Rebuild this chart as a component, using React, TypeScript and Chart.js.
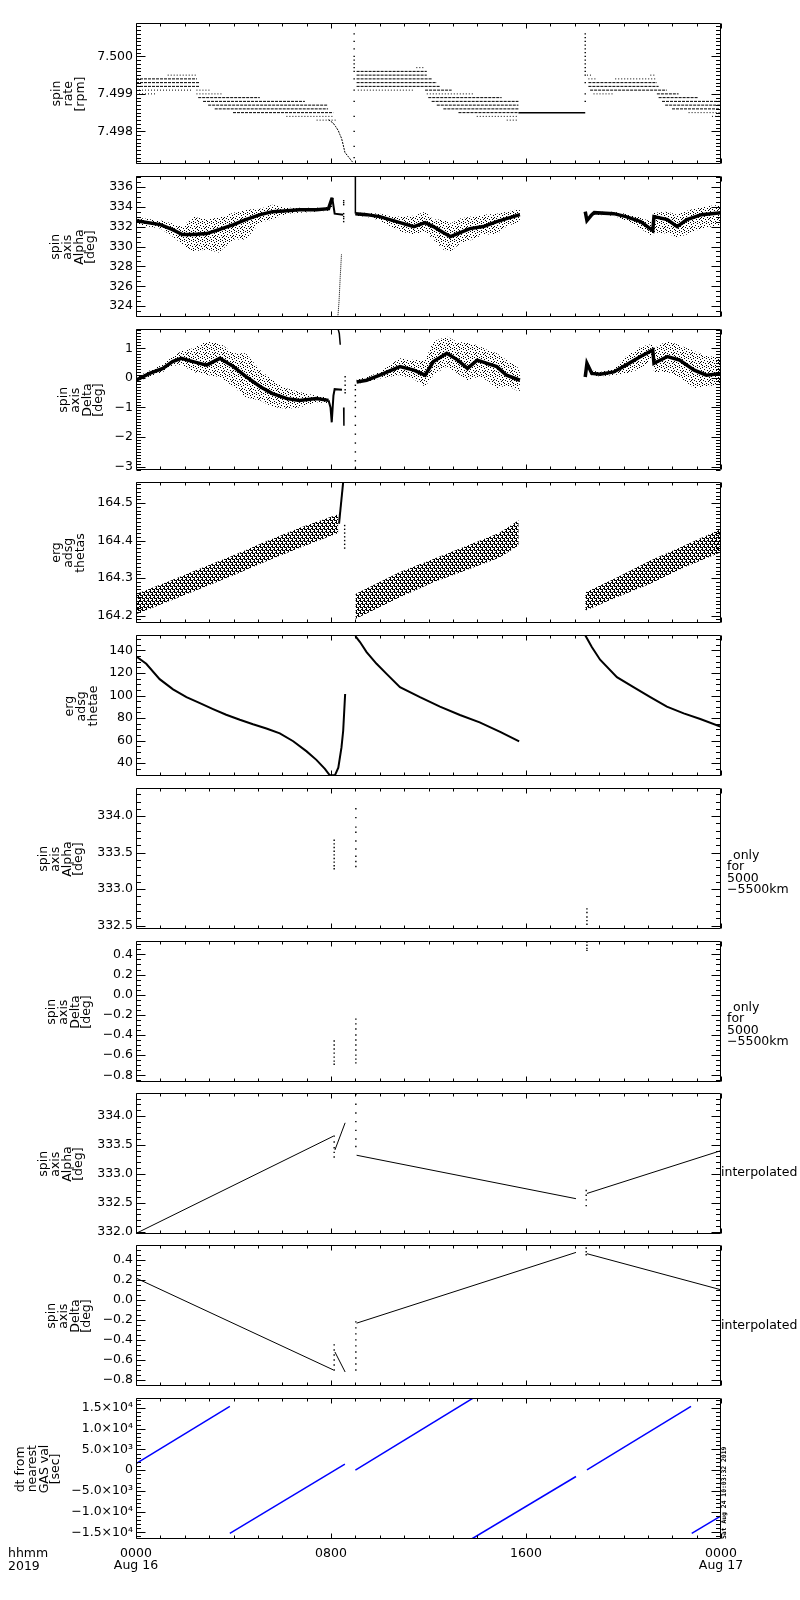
import React, { useEffect, useRef } from "react";
import { Chart, registerables } from "chart.js";

Chart.register(...registerables);

type Seg = [number, number, number];

// ---------------- time axis ----------------
const hourTicks = Array.from({ length: 25 }, (_, i) => i);
const hourMajor = [0, 8, 16, 24];
const hourLabels: (string | string[])[] = [["0000", "Aug 16"], "0800", "1600", ["0000", "Aug 17"]];

// ---------------- panel 1 : spin rate ----------------
const rateTicks = [7.498, 7.499, 7.5];
const rateTickLabels = ["7.498", "7.499", "7.500"];
const rateDenseSegs: Seg[] = [
  [0, 2.5, 7.4994], [0, 2.6, 7.4993], [0, 2.6, 7.4992],
  [2.55, 5.08, 7.4989], [2.75, 6.93, 7.4988], [2.96, 7.88, 7.4987], [3.23, 7.88, 7.4986], [3.98, 8.09, 7.4985],
  [9.05, 11.93, 7.4996], [9.05, 11.93, 7.4995], [9.05, 12.13, 7.4994], [9.05, 12.34, 7.4993], [9.05, 12.47, 7.4992],
  [11.86, 12.95, 7.4991], [11.99, 15.0, 7.4989], [12.13, 15.69, 7.4988], [12.34, 15.69, 7.4987], [12.61, 15.69, 7.4986],
  [13.23, 15.69, 7.4985],
  [18.56, 21.37, 7.4993], [18.56, 21.44, 7.4992], [18.63, 21.78, 7.4991], [21.37, 22.26, 7.499],
  [21.44, 23.08, 7.4989], [21.58, 24, 7.4988], [21.71, 24, 7.4987], [21.99, 24, 7.4986],
];
const rateSparseSegs: Seg[] = [
  [1.3, 2.45, 7.4995], [0, 2.3, 7.4991], [0, 0.8, 7.499], [2.48, 3.09, 7.4991], [2.48, 3.57, 7.499],
  [6.17, 8.09, 7.4984], [7.41, 8.23, 7.4983],
  [11.5, 11.85, 7.4997], [9.1, 11.4, 7.4991], [11.93, 13.84, 7.499], [13.98, 15.69, 7.4984], [15.21, 15.69, 7.4983],
  [18.5, 18.7, 7.4995], [18.56, 18.9, 7.4994], [19.66, 21.3, 7.4994], [21.1, 21.3, 7.4995], [18.77, 19.59, 7.499],
  [22.67, 24, 7.4985], [23.63, 24, 7.4984],
];
const rateSolidSegs: Seg[] = [[15.69, 18.43, 7.4985]];
const rateDescentT = [7.9, 8.09, 8.2, 8.3, 8.36, 8.43, 8.5, 8.57, 8.91];
const rateDescentV = [7.49831, 7.49822, 7.49812, 7.49802, 7.49792, 7.49782, 7.49764, 7.49744, 7.49716];
const rateSpike1T = 8.95;
const rateSpike1V = [7.4973, 7.4976, 7.498, 7.4984, 7.4988, 7.4991, 7.4994, 7.4996, 7.4997, 7.4998, 7.4999, 7.5, 7.5002, 7.5004, 7.5006];
const rateSpike2T = 18.43;
const rateSpike2V = [7.4988, 7.499, 7.4993, 7.4995, 7.4996, 7.4997, 7.4998, 7.4999, 7.5, 7.5001, 7.5002, 7.5003, 7.5004, 7.5005, 7.5006];

// ---------------- panel 2 : spin axis alpha ----------------
const alphaTicks = [324, 326, 328, 330, 332, 334, 336];
const alphaTickLabels = ["324", "326", "328", "330", "332", "334", "336"];
const alphaT1 = [0, 1, 1.5, 1.9, 2.35, 2.9, 3.4, 4.0, 4.5, 5.1, 5.6, 6.2, 6.7, 7.4, 7.9, 8.05];
const alphaCore1 = [332.6, 332.2, 331.7, 331.2, 331.2, 331.3, 331.7, 332.2, 332.7, 333.2, 333.5, 333.6, 333.7, 333.7, 333.8, 334.9];
const alphaHi1 = [332.9, 332.6, 332.3, 332.0, 333.0, 332.7, 332.9, 333.4, 333.7, 333.8, 334.2, 333.9, 333.9, 333.9, 334.0, 335.0];
const alphaLo1 = [332.2, 331.8, 331.0, 330.2, 329.5, 329.7, 329.4, 330.7, 330.7, 332.4, 332.7, 333.3, 333.4, 333.5, 333.6, 334.0];
const alphaFragT = [8.05, 8.15, 8.5];
const alphaFragV = [334.9, 333.3, 333.2];
const alphaDipT = [8.28, 8.33, 8.38, 8.43];
const alphaDipV = [322.9, 324.5, 327.0, 329.2];
const alphaDotsT = 8.52;
const alphaDotsV = [334.6, 334.4, 334.2, 333.3, 333.0, 332.8, 332.5];
const alphaSpikeT = [9.0, 9.0];
const alphaSpikeV = [333.3, 337.1];
const alphaT2 = [9.0, 9.46, 10.0, 10.83, 11.4, 11.86, 12.2, 12.6, 12.9, 13.3, 13.7, 14.25, 14.8, 15.2, 15.75];
const alphaCore2 = [333.3, 333.2, 333.0, 332.4, 332.0, 332.4, 332.0, 331.4, 331.0, 331.4, 331.8, 332.0, 332.5, 332.8, 333.2];
const alphaHi2 = [333.4, 333.4, 333.3, 333.0, 333.1, 333.5, 332.7, 332.7, 332.3, 332.8, 333.0, 333.2, 333.3, 333.5, 333.8];
const alphaLo2 = [333.1, 333.0, 332.6, 331.5, 331.2, 331.5, 330.7, 329.7, 329.5, 330.3, 330.6, 331.2, 331.2, 332.0, 332.5];
const alphaT3 = [18.43, 18.5, 18.7, 18.8, 19.6, 20.1, 20.7, 21.2, 21.25, 21.8, 22.2, 22.6, 23.2, 24];
const alphaCore3 = [333.5, 332.6, 333.2, 333.4, 333.3, 333.0, 332.5, 331.6, 333.0, 332.7, 332.0, 332.7, 333.2, 333.4];
const alphaHi3 = [333.6, 332.9, 333.4, 333.5, 333.5, 333.3, 332.9, 332.4, 333.4, 333.5, 333.2, 333.6, 334.0, 334.2];
const alphaLo3 = [333.4, 332.5, 333.0, 333.2, 333.1, 332.6, 331.8, 331.0, 331.4, 331.3, 330.9, 331.2, 331.8, 332.2];

// ---------------- panel 3 : spin axis delta ----------------
const deltaTicks = [-3, -2, -1, 0, 1];
const deltaTickLabels = ["\u22123", "\u22122", "\u22121", "0", "1"];
const deltaT1 = [0, 0.56, 1.1, 1.5, 1.86, 2.34, 2.9, 3.44, 4.0, 4.5, 5.1, 5.6, 6.2, 6.7, 7.4, 7.9];
const deltaCore1 = [-0.08, 0.15, 0.32, 0.55, 0.66, 0.55, 0.43, 0.66, 0.38, 0.05, -0.3, -0.53, -0.7, -0.76, -0.7, -0.76];
const deltaHi1 = [0.02, 0.25, 0.45, 0.72, 0.9, 1.0, 1.23, 1.17, 0.83, 0.83, 0.26, -0.08, -0.36, -0.48, -0.6, -0.65];
const deltaLo1 = [-0.16, 0.05, 0.2, 0.4, 0.45, 0.2, 0.1, 0.03, -0.3, -0.65, -0.76, -0.98, -1.04, -1.0, -0.82, -0.86];
const deltaFragT = [7.9, 7.98, 8.03, 8.1, 8.15, 8.45];
const deltaFragV = [-0.76, -1.0, -1.5, -0.6, -0.38, -0.4];
const deltaTopT = [8.3, 8.34, 8.38];
const deltaTopV = [1.62, 1.5, 1.12];
const deltaLowT = [8.52, 8.53];
const deltaLowV = [-1.0, -1.62];
const deltaDotsT = 8.58;
const deltaDotsV = [0.04, -0.1, -0.25, -0.4, -0.5];
const deltaSpikeT = 9.0;
const deltaSpikeV = [-3.05, -2.8, -2.5, -2.2, -1.9, -1.6, -1.3, -1.0, -0.8, -0.6, -0.4, -0.25];
const deltaT2 = [9.05, 9.46, 10.0, 10.83, 11.4, 11.86, 12.2, 12.75, 13.2, 13.6, 14.0, 14.4, 14.8, 15.2, 15.75];
const deltaCore2 = [-0.14, -0.08, 0.09, 0.38, 0.26, 0.09, 0.55, 0.83, 0.6, 0.32, 0.6, 0.49, 0.38, 0.09, -0.08];
const deltaHi2 = [-0.05, 0.02, 0.2, 0.66, 0.6, 0.6, 1.23, 1.4, 1.2, 1.2, 1.1, 0.95, 0.83, 0.6, 0.3];
const deltaLo2 = [-0.2, -0.15, -0.02, 0.1, -0.05, -0.3, 0.1, 0.38, 0.15, -0.08, 0.03, -0.08, -0.36, -0.25, -0.48];
const deltaT3 = [18.43, 18.5, 18.7, 19.04, 19.6, 20.1, 20.7, 21.2, 21.25, 21.8, 22.3, 22.9, 23.4, 24];
const deltaCore3 = [0.03, 0.49, 0.15, 0.12, 0.2, 0.43, 0.72, 0.94, 0.49, 0.72, 0.6, 0.26, 0.09, 0.15];
const deltaHi3 = [0.1, 0.55, 0.25, 0.2, 0.3, 0.72, 1.05, 1.15, 1.0, 1.25, 1.1, 0.9, 0.75, 0.66];
const deltaLo3 = [-0.05, 0.4, 0.08, 0.05, 0.1, 0.15, 0.3, 0.7, 0.2, 0.2, 0.03, -0.35, -0.3, -0.2];

// ---------------- panel 4 : erg adsg thetas ----------------
const thetasTicks = [164.2, 164.3, 164.4, 164.5];
const thetasTickLabels = ["164.2", "164.3", "164.4", "164.5"];
const thetasT1 = [0, 1.25, 2.61, 3.98, 5.35, 6.72, 8.3];
const thetasHi1 = [164.258, 164.289, 164.325, 164.36, 164.398, 164.434, 164.47];
const thetasLo1 = [164.204, 164.236, 164.271, 164.307, 164.345, 164.381, 164.42];
const thetasJumpT = [8.33, 8.5];
const thetasJumpV = [164.445, 164.556];
const thetasDotsT = 8.56;
const thetasDotsV = [164.44, 164.43, 164.42, 164.41, 164.4, 164.39, 164.38];
const thetasT2 = [9.0, 10.83, 12.2, 13.6, 14.9, 15.7];
const thetasHi2 = [164.258, 164.316, 164.351, 164.387, 164.42, 164.454];
const thetasLo2 = [164.191, 164.249, 164.289, 164.322, 164.354, 164.387];
const thetasT3 = [18.43, 19.73, 21.1, 22.5, 24];
const thetasHi3 = [164.262, 164.302, 164.347, 164.387, 164.431];
const thetasLo3 = [164.213, 164.249, 164.285, 164.329, 164.369];

// ---------------- panel 5 : erg adsg thetae ----------------
const thetaeTicks = [40, 60, 80, 100, 120, 140];
const thetaeTickLabels = ["40", "60", "80", "100", "120", "140"];
const thetaeT1 = [0, 0.42, 0.97, 1.52, 2.07, 2.6, 3.16, 3.7, 4.26, 4.8, 5.35, 5.9, 6.45, 7.0, 7.4, 7.75, 7.95, 8.16, 8.3, 8.43, 8.5, 8.58];
const thetaeV1 = [134.7, 128.1, 114.5, 105.5, 98.5, 93.5, 88.0, 83.0, 78.5, 74.5, 70.8, 66.5, 59.5, 50.5, 43.0, 35.0, 29.3, 29.3, 36.1, 54, 68.8, 101.4];
const thetaeT2 = [9.0, 9.19, 9.46, 9.87, 10.28, 10.83, 11.65, 12.47, 13.29, 14.1, 14.94, 15.72];
const thetaeV2 = [152.5, 147.4, 138.5, 128.1, 119.2, 107.4, 98.5, 90.1, 82.7, 76.2, 67.8, 59.3];
const thetaeT3 = [18.43, 18.7, 19.04, 19.73, 20.41, 21.1, 21.78, 22.47, 23.15, 24];
const thetaeV3 = [153.4, 143, 131.7, 116.3, 107.4, 98.5, 90.1, 84.2, 79.2, 72.3];

// ---------------- panel 6 : alpha only for 5000-5500km ----------------
const alpha2Ticks = [332.5, 333.0, 333.5, 334.0];
const alpha2TickLabels = ["332.5", "333.0", "333.5", "334.0"];
const alpha2T = [8.13, 9.02, 18.5];
const alpha2A = [333.67, 333.62, 333.57, 333.52, 333.47, 333.42, 333.37, 333.32, 333.28];
const alpha2B = [334.1, 333.98, 333.85, 333.78, 333.66, 333.55, 333.45, 333.38, 333.31];
const alpha2C = [332.73, 332.68, 332.62, 332.57, 332.52];

// ---------------- panel 7 : delta only for 5000-5500km ----------------
const smallDeltaTicks = [-0.8, -0.6, -0.4, -0.2, 0, 0.2, 0.4];
const smallDeltaTickLabels = ["\u22120.8", "\u22120.6", "\u22120.4", "\u22120.2", "0.0", "0.2", "0.4"];
const delta2T = [8.13, 9.02, 18.5];
const delta2A = [-0.46, -0.5, -0.54, -0.58, -0.62, -0.66, -0.69];
const delta2B = [-0.243, -0.29, -0.34, -0.4, -0.45, -0.5, -0.55, -0.6, -0.64, -0.677];
const delta2C = [0.523, 0.49, 0.46, 0.44];

// ---------------- panel 8 : alpha interpolated ----------------
const alpha3Ticks = [332.0, 332.5, 333.0, 333.5, 334.0];
const alpha3TickLabels = ["332.0", "332.5", "333.0", "333.5", "334.0"];
const alpha3T1 = [0, 8.1];
const alpha3V1 = [331.97, 333.65];
const alpha3T2 = [8.16, 8.58];
const alpha3V2 = [333.41, 333.88];
const alpha3T3 = [9.05, 18.05];
const alpha3V3 = [333.32, 332.57];
const alpha3T4 = [18.5, 24];
const alpha3V4 = [332.66, 333.4];
const alpha3DotsT = [8.13, 9.02, 18.47];
const alpha3DotsA = [333.65, 333.55, 333.45, 333.37, 333.29];
const alpha3DotsB = [334.37, 334.2, 334.05, 333.9, 333.75, 333.6, 333.47];
const alpha3DotsC = [332.71, 332.63, 332.55, 332.45];

// ---------------- panel 9 : delta interpolated ----------------
const delta3T1 = [0, 8.1];
const delta3V1 = [0.217, -0.7];
const delta3T2 = [8.16, 8.58];
const delta3V2 = [-0.52, -0.72];
const delta3T3 = [9.05, 18.05];
const delta3V3 = [-0.233, 0.473];
const delta3T4 = [18.5, 24];
const delta3V4 = [0.46, 0.1];
const delta3DotsT = [8.13, 9.02, 18.47];
const delta3DotsA = [-0.45, -0.5, -0.55, -0.6, -0.65, -0.7];
const delta3DotsB = [-0.22, -0.28, -0.34, -0.4, -0.46, -0.52, -0.58, -0.64, -0.7];
const delta3DotsC = [0.517, 0.48, 0.45];

// ---------------- panel 10 : dt from nearest GAS val ----------------
const dtTicks = [-15000, -10000, -5000, 0, 5000, 10000, 15000];
const dtTickLabels = ["\u22121.5\u00d710\u2074", "\u22121.0\u00d710\u2074", "\u22125.0\u00d710\u00b3", "0", "5.0\u00d710\u00b3", "1.0\u00d710\u2074", "1.5\u00d710\u2074"];
const dtT1 = [0, 3.85];
const dtV1 = [1600, 15400];
const dtT2 = [3.85, 8.57];
const dtV2 = [-15240, 1450];
const dtT3 = [9.0, 13.83];
const dtV3 = [0, 17400];
const dtT4 = [13.77, 18.05];
const dtV4 = [-16620, -1530];
const dtT5 = [18.5, 22.77];
const dtV5 = [80, 15400];
const dtT6 = [22.8, 24];
const dtV6 = [-15240, -11050];

// ---------------- layout & style ----------------
const FONT = "'DejaVu Sans', 'Liberation Sans', sans-serif";
const FONT_SIZE = 12.5;
const PLOT_LEFT = 136;
const PLOT_RIGHT = 721;
const PANEL_H = 141;
const PAD = 16;
const XAXIS_H = 45;
const TITLE_LH = 11.8;

// pattern tiles (texture of the scattered point clouds)
const NOISE_TILE = {
  w: 9, h: 9,
  px: [[0, 0], [4, 0], [7, 1], [2, 2], [5, 3], [8, 3], [1, 4], [3, 5], [6, 5], [0, 7], [4, 7], [8, 6], [2, 8], [6, 8], [7, 4]],
};
const HATCH_TILE = {
  w: 4, h: 6,
  px: [[0, 0], [0, 1], [0, 2], [0, 3], [1, 3], [2, 3], [2, 4], [2, 5], [2, 0], [3, 0], [1, 5], [3, 2]],
};

type Patterns = { noise: any; hatch: any };

const pts = (t: number[], v: number[]) => t.map((x, i) => ({ x, y: v[i] }));

function lineDs(t: number[], v: number[], o: any = {}) {
  return { data: pts(t, v), borderColor: "#000", borderWidth: 1, pointRadius: 0, fill: false, tension: 0, ...o };
}
function dotsDs(t: number, v: number[], color = "#000") {
  return {
    data: v.map((y) => ({ x: t, y })),
    showLine: false,
    pointRadius: 1,
    pointStyle: "rect",
    pointBackgroundColor: color,
    pointBorderWidth: 0,
    borderWidth: 0,
    borderColor: color,
  };
}
function segsDs(segs: Seg[], o: any = {}) {
  const d: any[] = [];
  for (const [a, b, v] of segs) {
    d.push({ x: a, y: v }, { x: b, y: v }, { x: b, y: null });
  }
  return { data: d, borderColor: "#000", borderWidth: 1, pointRadius: 0, fill: false, spanGaps: false, tension: 0, ...o };
}
function bandDs(t: number[], hi: number[], lo: number[], pattern: any) {
  return [
    { data: pts(t, hi), borderWidth: 0, borderColor: "rgba(0,0,0,0)", pointRadius: 0, fill: "+1", backgroundColor: pattern, tension: 0 },
    { data: pts(t, lo), borderWidth: 0, borderColor: "rgba(0,0,0,0)", pointRadius: 0, fill: false, tension: 0 },
  ];
}
function noisySeg(t: number[], core: number[], hi: number[], lo: number[], p: Patterns) {
  return [...bandDs(t, hi, lo, p.noise), lineDs(t, core, { borderWidth: 3.5 })];
}

interface PanelSpec {
  top: number;
  min: number;
  max: number;
  majors: number[];
  labels: string[];
  minor: number;
  title: string[];
  titleLast: number;
  last?: boolean;
  build: (p: Patterns) => any[];
}

const panels: PanelSpec[] = [
  {
    top: 23, min: 7.49713, max: 7.50089, majors: rateTicks, labels: rateTickLabels, minor: 0.0001,
    title: ["spin", "rate", "[rpm]"], titleLast: 79.5,
    build: () => [
      segsDs(rateDenseSegs, { borderDash: [3, 1] }),
      segsDs(rateSparseSegs, { borderDash: [1, 2] }),
      segsDs(rateSolidSegs, { borderWidth: 1.5 }),
      lineDs(rateDescentT, rateDescentV, { borderDash: [2, 1] }),
      dotsDs(rateSpike1T, rateSpike1V),
      dotsDs(rateSpike2T, rateSpike2V),
    ],
  },
  {
    top: 176, min: 322.92, max: 337.08, majors: alphaTicks, labels: alphaTickLabels, minor: 0.5,
    title: ["spin", "axis", "Alpha", "[deg]"], titleLast: 90.5,
    build: (p) => [
      ...noisySeg(alphaT1, alphaCore1, alphaHi1, alphaLo1, p),
      ...noisySeg(alphaT2, alphaCore2, alphaHi2, alphaLo2, p),
      ...noisySeg(alphaT3, alphaCore3, alphaHi3, alphaLo3, p),
      lineDs(alphaFragT, alphaFragV, { borderWidth: 2 }),
      lineDs(alphaDipT, alphaDipV, { borderDash: [1, 1] }),
      dotsDs(alphaDotsT, alphaDotsV),
      lineDs(alphaSpikeT, alphaSpikeV, { borderWidth: 1.5 }),
    ],
  },
  {
    top: 329, min: -3.11, max: 1.65, majors: deltaTicks, labels: deltaTickLabels, minor: 0.1,
    title: ["spin", "axis", "Delta", "[deg]"], titleLast: 98.5,
    build: (p) => [
      ...noisySeg(deltaT1, deltaCore1, deltaHi1, deltaLo1, p),
      ...noisySeg(deltaT2, deltaCore2, deltaHi2, deltaLo2, p),
      ...noisySeg(deltaT3, deltaCore3, deltaHi3, deltaLo3, p),
      lineDs(deltaFragT, deltaFragV, { borderWidth: 2 }),
      lineDs(deltaTopT, deltaTopV, { borderWidth: 1.5 }),
      lineDs(deltaLowT, deltaLowV, { borderWidth: 1.5 }),
      dotsDs(deltaDotsT, deltaDotsV),
      dotsDs(deltaSpikeT, deltaSpikeV),
    ],
  },
  {
    top: 482, min: 164.1805, max: 164.556, majors: thetasTicks, labels: thetasTickLabels, minor: 0.01,
    title: ["erg", "adsg", "thetas"], titleLast: 79.6,
    build: (p) => [
      ...bandDs(thetasT1, thetasHi1, thetasLo1, p.hatch),
      ...bandDs(thetasT2, thetasHi2, thetasLo2, p.hatch),
      ...bandDs(thetasT3, thetasHi3, thetasLo3, p.hatch),
      lineDs(thetasJumpT, thetasJumpV, { borderWidth: 2 }),
      dotsDs(thetasDotsT, thetasDotsV),
    ],
  },
  {
    top: 635, min: 28.7, max: 153.6, majors: thetaeTicks, labels: thetaeTickLabels, minor: 5,
    title: ["erg", "adsg", "thetae"], titleLast: 92.3,
    build: () => [
      lineDs(thetaeT1, thetaeV1, { borderWidth: 2 }),
      lineDs(thetaeT2, thetaeV2, { borderWidth: 2 }),
      lineDs(thetaeT3, thetaeV3, { borderWidth: 2 }),
    ],
  },
  {
    top: 788, min: 332.455, max: 334.385, majors: alpha2Ticks, labels: alpha2TickLabels, minor: 0.1,
    title: ["spin", "axis", "Alpha", "[deg]"], titleLast: 78.5,
    build: () => [dotsDs(alpha2T[0], alpha2A), dotsDs(alpha2T[1], alpha2B), dotsDs(alpha2T[2], alpha2C)],
  },
  {
    top: 941, min: -0.867, max: 0.533, majors: smallDeltaTicks, labels: smallDeltaTickLabels, minor: 0.05,
    title: ["spin", "axis", "Delta", "[deg]"], titleLast: 85.8,
    build: () => [dotsDs(delta2T[0], delta2A), dotsDs(delta2T[1], delta2B), dotsDs(delta2T[2], delta2C)],
  },
  {
    top: 1093, min: 331.96, max: 334.395, majors: alpha3Ticks, labels: alpha3TickLabels, minor: 0.1,
    title: ["spin", "axis", "Alpha", "[deg]"], titleLast: 78.5,
    build: () => [
      lineDs(alpha3T1, alpha3V1),
      lineDs(alpha3T2, alpha3V2),
      lineDs(alpha3T3, alpha3V3),
      lineDs(alpha3T4, alpha3V4),
      dotsDs(alpha3DotsT[0], alpha3DotsA),
      dotsDs(alpha3DotsT[1], alpha3DotsB),
      dotsDs(alpha3DotsT[2], alpha3DotsC),
    ],
  },
  {
    top: 1245, min: -0.86, max: 0.547, majors: smallDeltaTicks, labels: smallDeltaTickLabels, minor: 0.05,
    title: ["spin", "axis", "Delta", "[deg]"], titleLast: 85.8,
    build: () => [
      lineDs(delta3T1, delta3V1),
      lineDs(delta3T2, delta3V2),
      lineDs(delta3T3, delta3V3),
      lineDs(delta3T4, delta3V4),
      dotsDs(delta3DotsT[0], delta3DotsA),
      dotsDs(delta3DotsT[1], delta3DotsB),
      dotsDs(delta3DotsT[2], delta3DotsC),
    ],
  },
  {
    top: 1398, min: -16620, max: 17420, majors: dtTicks, labels: dtTickLabels, minor: 1000,
    title: ["dt from", "nearest", "GAS val", "[sec]"], titleLast: 55, last: true,
    build: () => {
      const blue = { borderColor: "#0000ff", borderWidth: 1.5 };
      return [
        lineDs(dtT1, dtV1, blue),
        lineDs(dtT2, dtV2, blue),
        lineDs(dtT3, dtV3, blue),
        lineDs(dtT4, dtV4, blue),
        lineDs(dtT5, dtV5, blue),
        lineDs(dtT6, dtV6, blue),
      ];
    },
  },
];

function makePattern(ctx: CanvasRenderingContext2D, tile: { w: number; h: number; px: number[][] }) {
  const c = document.createElement("canvas");
  c.width = tile.w;
  c.height = tile.h;
  const g = c.getContext("2d")!;
  g.fillStyle = "#000";
  for (const [x, y] of tile.px) g.fillRect(x, y, 1, 1);
  return ctx.createPattern(c, "repeat");
}

function Panel({ spec }: { spec: PanelSpec }) {
  const ref = useRef<HTMLCanvasElement>(null);
  const h = PAD + PANEL_H + (spec.last ? XAXIS_H : PAD);

  useEffect(() => {
    const canvas = ref.current!;
    const ctx = canvas.getContext("2d")!;
    const patterns: Patterns = { noise: makePattern(ctx, NOISE_TILE), hatch: makePattern(ctx, HATCH_TILE) };

    const framePlugin = {
      id: "idlFrame",
      afterDraw(chart: any) {
        const { ctx: c, chartArea: a, scales } = chart;
        const xs = scales.x;
        const ys = scales.y;
        const L = Math.round(a.left) + 0.5;
        const R = Math.round(a.right) - 0.5;
        const T = Math.round(a.top) + 0.5;
        const B = Math.round(a.bottom) - 0.5;
        c.save();
        c.strokeStyle = "#000";
        c.lineWidth = 1;
        c.beginPath();
        c.rect(L, T, R - L, B - T);
        const yTick = (v: number, len: number) => {
          const py = Math.round(ys.getPixelForValue(v)) + 0.5;
          c.moveTo(L, py);
          c.lineTo(L + len, py);
          c.moveTo(R, py);
          c.lineTo(R - len, py);
        };
        for (const v of spec.majors) yTick(v, 9);
        const k0 = Math.ceil(spec.min / spec.minor - 1e-6);
        const k1 = Math.floor(spec.max / spec.minor + 1e-6);
        for (let k = k0; k <= k1; k++) {
          const v = k * spec.minor;
          if (spec.majors.some((m) => Math.abs(m - v) < spec.minor * 0.01)) continue;
          yTick(v, 4.5);
        }
        for (const hr of hourTicks) {
          const len = hourMajor.includes(hr) ? 5 : 3;
          const px = Math.round(xs.getPixelForValue(hr)) + 0.5;
          c.moveTo(px, B);
          c.lineTo(px, B - len);
          c.moveTo(px, T);
          c.lineTo(px, T + len);
        }
        c.stroke();
        c.restore();
      },
    };

    const chart = new Chart(canvas, {
      type: "line",
      data: { datasets: spec.build(patterns) as any },
      options: {
        responsive: false,
        animation: false,
        events: [],
        layout: { padding: { left: 0, right: 800 - PLOT_RIGHT, top: PAD, bottom: spec.last ? 0 : PAD } },
        plugins: { legend: { display: false }, tooltip: { enabled: false } },
        scales: {
          x: {
            type: "linear",
            min: 0,
            max: 24,
            display: !!spec.last,
            afterFit: (s: any) => {
              if (spec.last) s.height = XAXIS_H;
            },
            afterBuildTicks: (s: any) => {
              s.ticks = hourMajor.map((v) => ({ value: v }));
            },
            grid: { display: false, drawTicks: false },
            border: { display: false },
            ticks: {
              autoSkip: false,
              maxRotation: 0,
              padding: 8,
              color: "#000",
              font: { family: FONT, size: FONT_SIZE, lineHeight: 1.0 },
              callback: (_v: any, i: number) => hourLabels[i],
            },
          },
          y: {
            type: "linear",
            min: spec.min,
            max: spec.max,
            afterFit: (s: any) => {
              s.width = PLOT_LEFT;
            },
            afterBuildTicks: (s: any) => {
              s.ticks = spec.majors.map((v) => ({ value: v }));
            },
            grid: { display: false, drawTicks: false },
            border: { display: false },
            ticks: {
              autoSkip: false,
              padding: 3,
              color: "#000",
              font: { family: FONT, size: FONT_SIZE },
              callback: (_v: any, i: number) => spec.labels[i],
            },
          },
        },
      } as any,
      plugins: [framePlugin],
    });
    return () => chart.destroy();
  }, []);

  return (
    <canvas
      ref={ref}
      width={800}
      height={h}
      style={{ position: "absolute", left: 0, top: spec.top - PAD, width: 800, height: h }}
    />
  );
}

function Title({ lines, lastCenter, centerY }: { lines: string[]; lastCenter: number; centerY: number }) {
  const n = lines.length;
  const left = lastCenter - (n - 1) * TITLE_LH - TITLE_LH / 2;
  return (
    <div
      style={{
        position: "absolute",
        left,
        top: centerY,
        transform: "translateY(-50%) rotate(180deg)",
        writingMode: "vertical-rl",
        fontFamily: FONT,
        fontSize: FONT_SIZE,
        lineHeight: `${TITLE_LH}px`,
        textAlign: "center",
        whiteSpace: "nowrap",
        color: "#000",
      }}
    >
      {lines.map((l, i) => (
        <div key={i}>{l}</div>
      ))}
    </div>
  );
}

const textStyle: React.CSSProperties = {
  position: "absolute",
  fontFamily: FONT,
  fontSize: FONT_SIZE,
  color: "#000",
  whiteSpace: "nowrap",
};

function OnlyFor({ top }: { top: number }) {
  return (
    <div style={{ ...textStyle, left: 727, top, lineHeight: "11.4px" }}>
      <div style={{ paddingLeft: 6 }}>only</div>
      <div>for</div>
      <div>5000</div>
      <div>{"\u22125500km"}</div>
    </div>
  );
}

export default function App() {
  return (
    <div style={{ position: "absolute", left: 0, top: 0, width: 800, height: 1600, background: "#fff", overflow: "hidden" }}>
      {panels.map((p, i) => (
        <Panel key={i} spec={p} />
      ))}
      {panels.map((p, i) => (
        <Title key={"t" + i} lines={p.title} lastCenter={p.titleLast} centerY={p.top + PANEL_H / 2} />
      ))}
      <OnlyFor top={849} />
      <OnlyFor top={1001} />
      <div style={{ ...textStyle, left: 721, top: 1165, lineHeight: "13px" }}>interpolated</div>
      <div style={{ ...textStyle, left: 721, top: 1318, lineHeight: "13px" }}>interpolated</div>
      <div style={{ ...textStyle, left: 8, top: 1547, lineHeight: "12.5px" }}>
        <div>hhmm</div>
        <div>2019</div>
      </div>
      <div
        style={{
          position: "absolute",
          left: 721,
          top: 1449,
          height: 90,
          writingMode: "vertical-rl",
          transform: "rotate(180deg)",
          fontFamily: "'DejaVu Sans Mono', monospace",
          fontWeight: "bold",
          fontSize: 6.4,
          lineHeight: "7px",
          whiteSpace: "nowrap",
          color: "#000",
        }}
      >
        Sat Aug 24 10:03:32 2019
      </div>
    </div>
  );
}
